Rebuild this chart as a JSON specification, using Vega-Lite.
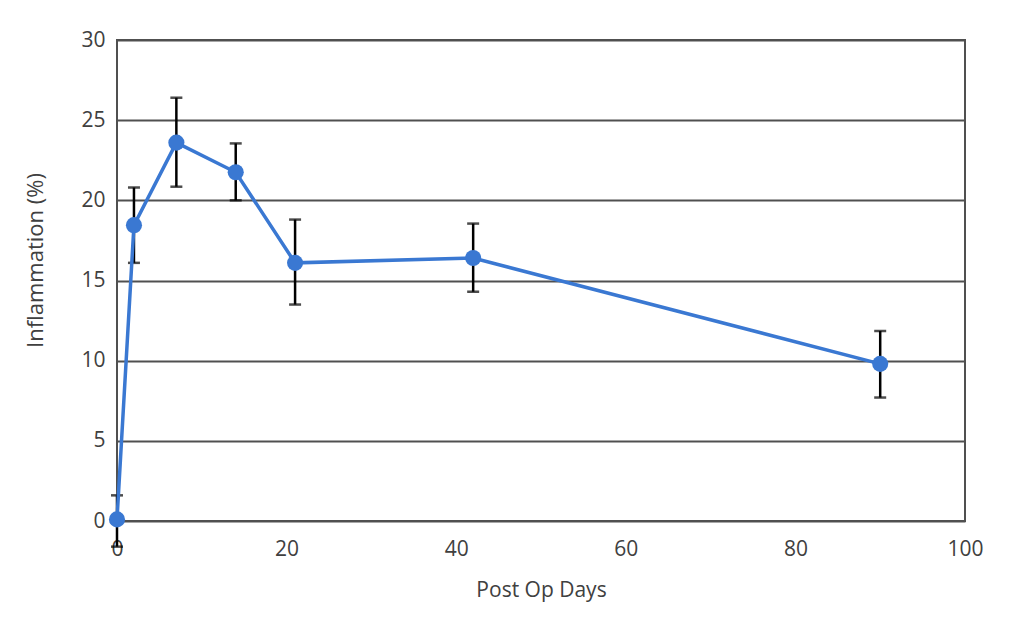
{
  "$schema": "https://vega.github.io/schema/vega-lite/v6.json",
  "width": 848,
  "height": 481,
  "autosize": {"type": "none"},
  "padding": {"left": 117, "top": 40, "right": 59, "bottom": 115},
  "background": "white",
  "config": {
    "font": "Open Sans",
    "view": {"stroke": "#505050", "strokeWidth": 2},
    "axis": {
      "labelFont": "Open Sans",
      "titleFont": "Open Sans",
      "labelFontSize": 21,
      "titleFontSize": 21,
      "labelColor": "#404040",
      "titleColor": "#404040",
      "titleFontWeight": "normal",
      "ticks": false,
      "domain": false
    }
  },
  "data": {
    "values": [
      {"day": 0, "mean": 0.1, "lo": -1.6, "hi": 1.6},
      {"day": 2, "mean": 18.45, "lo": 16.1, "hi": 20.8},
      {"day": 7, "mean": 23.6, "lo": 20.85, "hi": 26.4},
      {"day": 14, "mean": 21.75, "lo": 20.0, "hi": 23.55},
      {"day": 21, "mean": 16.1, "lo": 13.5, "hi": 18.8},
      {"day": 42, "mean": 16.4, "lo": 14.3, "hi": 18.55},
      {"day": 90, "mean": 9.8, "lo": 7.7, "hi": 11.85}
    ]
  },
  "encoding": {
    "x": {
      "field": "day",
      "type": "quantitative",
      "scale": {"domain": [0, 100], "nice": false, "zero": false},
      "axis": {
        "title": "Post Op Days",
        "values": [0, 20, 40, 60, 80, 100],
        "grid": false,
        "labelPadding": 17,
        "titlePadding": 20,
        "labelFlush": false
      }
    }
  },
  "layer": [
    {
      "mark": {
        "type": "errorbar",
        "color": "black",
        "ticks": {"size": 12, "thickness": 2.5, "color": "black"},
        "rule": {"strokeWidth": 2.5, "color": "black"},
        "clip": false
      },
      "encoding": {
        "y": {
          "field": "lo",
          "type": "quantitative",
          "scale": {"domain": [0, 30], "nice": false, "zero": false},
          "axis": {
            "title": "Inflammation (%)",
            "titleFontSize": 22,
            "values": [0, 5, 10, 15, 20, 25, 30],
            "grid": true,
            "gridColor": "#505050",
            "gridWidth": 2,
            "gridOpacity": 1,
            "labelPadding": 12,
            "titleX": -82,
            "titleY": 220,
            "titleAngle": -90,
            "titleBaseline": "middle",
            "titleAlign": "center"
          }
        },
        "y2": {"field": "hi"}
      }
    },
    {
      "mark": {"type": "line", "color": "#3a78d2", "strokeWidth": 3.5, "clip": false},
      "encoding": {"y": {"field": "mean", "type": "quantitative"}}
    },
    {
      "mark": {"type": "point", "shape": "circle", "filled": true, "size": 260, "color": "#3a78d2", "opacity": 1},
      "encoding": {"y": {"field": "mean", "type": "quantitative"}}
    }
  ]
}
